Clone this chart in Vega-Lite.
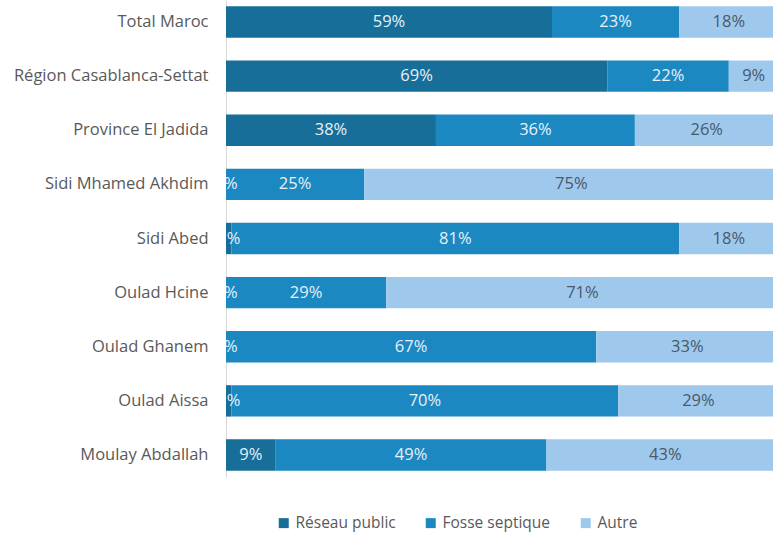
{
  "$schema": "https://vega.github.io/schema/vega-lite/v6.json",
  "width": 547,
  "height": 477,
  "autosize": "none",
  "padding": {"left": 226, "top": 0, "right": 0, "bottom": 62},
  "background": "white",
  "config": {"view": {"stroke": null}, "font": "Open Sans"},
  "data": {"values": [
    {"cat": "Total Maroc", "type": "Réseau public", "rang": 1, "v": 59},
    {"cat": "Total Maroc", "type": "Fosse septique", "rang": 2, "v": 23},
    {"cat": "Total Maroc", "type": "Autre", "rang": 3, "v": 18},
    {"cat": "Région Casablanca-Settat", "type": "Réseau public", "rang": 1, "v": 69},
    {"cat": "Région Casablanca-Settat", "type": "Fosse septique", "rang": 2, "v": 22},
    {"cat": "Région Casablanca-Settat", "type": "Autre", "rang": 3, "v": 9},
    {"cat": "Province El Jadida", "type": "Réseau public", "rang": 1, "v": 38},
    {"cat": "Province El Jadida", "type": "Fosse septique", "rang": 2, "v": 36},
    {"cat": "Province El Jadida", "type": "Autre", "rang": 3, "v": 26},
    {"cat": "Sidi Mhamed Akhdim", "type": "Réseau public", "rang": 1, "v": 0},
    {"cat": "Sidi Mhamed Akhdim", "type": "Fosse septique", "rang": 2, "v": 25},
    {"cat": "Sidi Mhamed Akhdim", "type": "Autre", "rang": 3, "v": 75},
    {"cat": "Sidi Abed", "type": "Réseau public", "rang": 1, "v": 1},
    {"cat": "Sidi Abed", "type": "Fosse septique", "rang": 2, "v": 81},
    {"cat": "Sidi Abed", "type": "Autre", "rang": 3, "v": 18},
    {"cat": "Oulad Hcine", "type": "Réseau public", "rang": 1, "v": 0},
    {"cat": "Oulad Hcine", "type": "Fosse septique", "rang": 2, "v": 29},
    {"cat": "Oulad Hcine", "type": "Autre", "rang": 3, "v": 71},
    {"cat": "Oulad Ghanem", "type": "Réseau public", "rang": 1, "v": 0},
    {"cat": "Oulad Ghanem", "type": "Fosse septique", "rang": 2, "v": 67},
    {"cat": "Oulad Ghanem", "type": "Autre", "rang": 3, "v": 33},
    {"cat": "Oulad Aissa", "type": "Réseau public", "rang": 1, "v": 1},
    {"cat": "Oulad Aissa", "type": "Fosse septique", "rang": 2, "v": 70},
    {"cat": "Oulad Aissa", "type": "Autre", "rang": 3, "v": 29},
    {"cat": "Moulay Abdallah", "type": "Réseau public", "rang": 1, "v": 9},
    {"cat": "Moulay Abdallah", "type": "Fosse septique", "rang": 2, "v": 49},
    {"cat": "Moulay Abdallah", "type": "Autre", "rang": 3, "v": 43}
  ]},
  "transform": [
    {"stack": "v", "groupby": ["cat"], "sort": [{"field": "rang", "order": "ascending"}], "as": ["v0", "v1"]},
    {"calculate": "(datum.v0 + datum.v1) / 2", "as": "vmid"},
    {"calculate": "datum.v + '%'", "as": "lab"}
  ],
  "encoding": {
    "y": {
      "field": "cat", "type": "nominal",
      "sort": ["Total Maroc", "Région Casablanca-Settat", "Province El Jadida", "Sidi Mhamed Akhdim", "Sidi Abed", "Oulad Hcine", "Oulad Ghanem", "Oulad Aissa", "Moulay Abdallah"],
      "scale": {"paddingInner": 0.42, "paddingOuter": 0.116},
      "axis": {"title": null, "ticks": false, "labelPadding": 18, "labelFontSize": 16.5, "labelColor": "#595959", "labelLimit": 300, "domainColor": "#d9d9d9", "domainWidth": 1}
    }
  },
  "layer": [
    {
      "mark": {"type": "bar", "clip": true},
      "encoding": {
        "x": {"field": "v0", "type": "quantitative", "scale": {"domain": [0, 99], "nice": false, "zero": true}, "axis": null},
        "x2": {"field": "v1"},
        "color": {
          "field": "type", "type": "nominal",
          "scale": {"domain": ["Réseau public", "Fosse septique", "Autre"], "range": ["#176f99", "#1b88c2", "#9ec9ed"]},
          "legend": {
            "title": null, "orient": "none", "direction": "horizontal",
            "legendX": 50, "legendY": 515,
            "symbolType": "square", "symbolSize": 100, "symbolStrokeWidth": 0,
            "labelFontSize": 15.5, "labelColor": "#595959", "columnPadding": 27, "labelOffset": 4
          }
        }
      }
    },
    {
      "mark": {"type": "text", "clip": true, "fontSize": 16.5, "align": "center", "baseline": "middle"},
      "encoding": {
        "x": {"field": "vmid", "type": "quantitative"},
        "text": {"field": "lab"},
        "color": {"condition": {"test": "datum.type === 'Autre'", "value": "#4a5868"}, "value": "#e6f1f8"}
      }
    }
  ]
}
